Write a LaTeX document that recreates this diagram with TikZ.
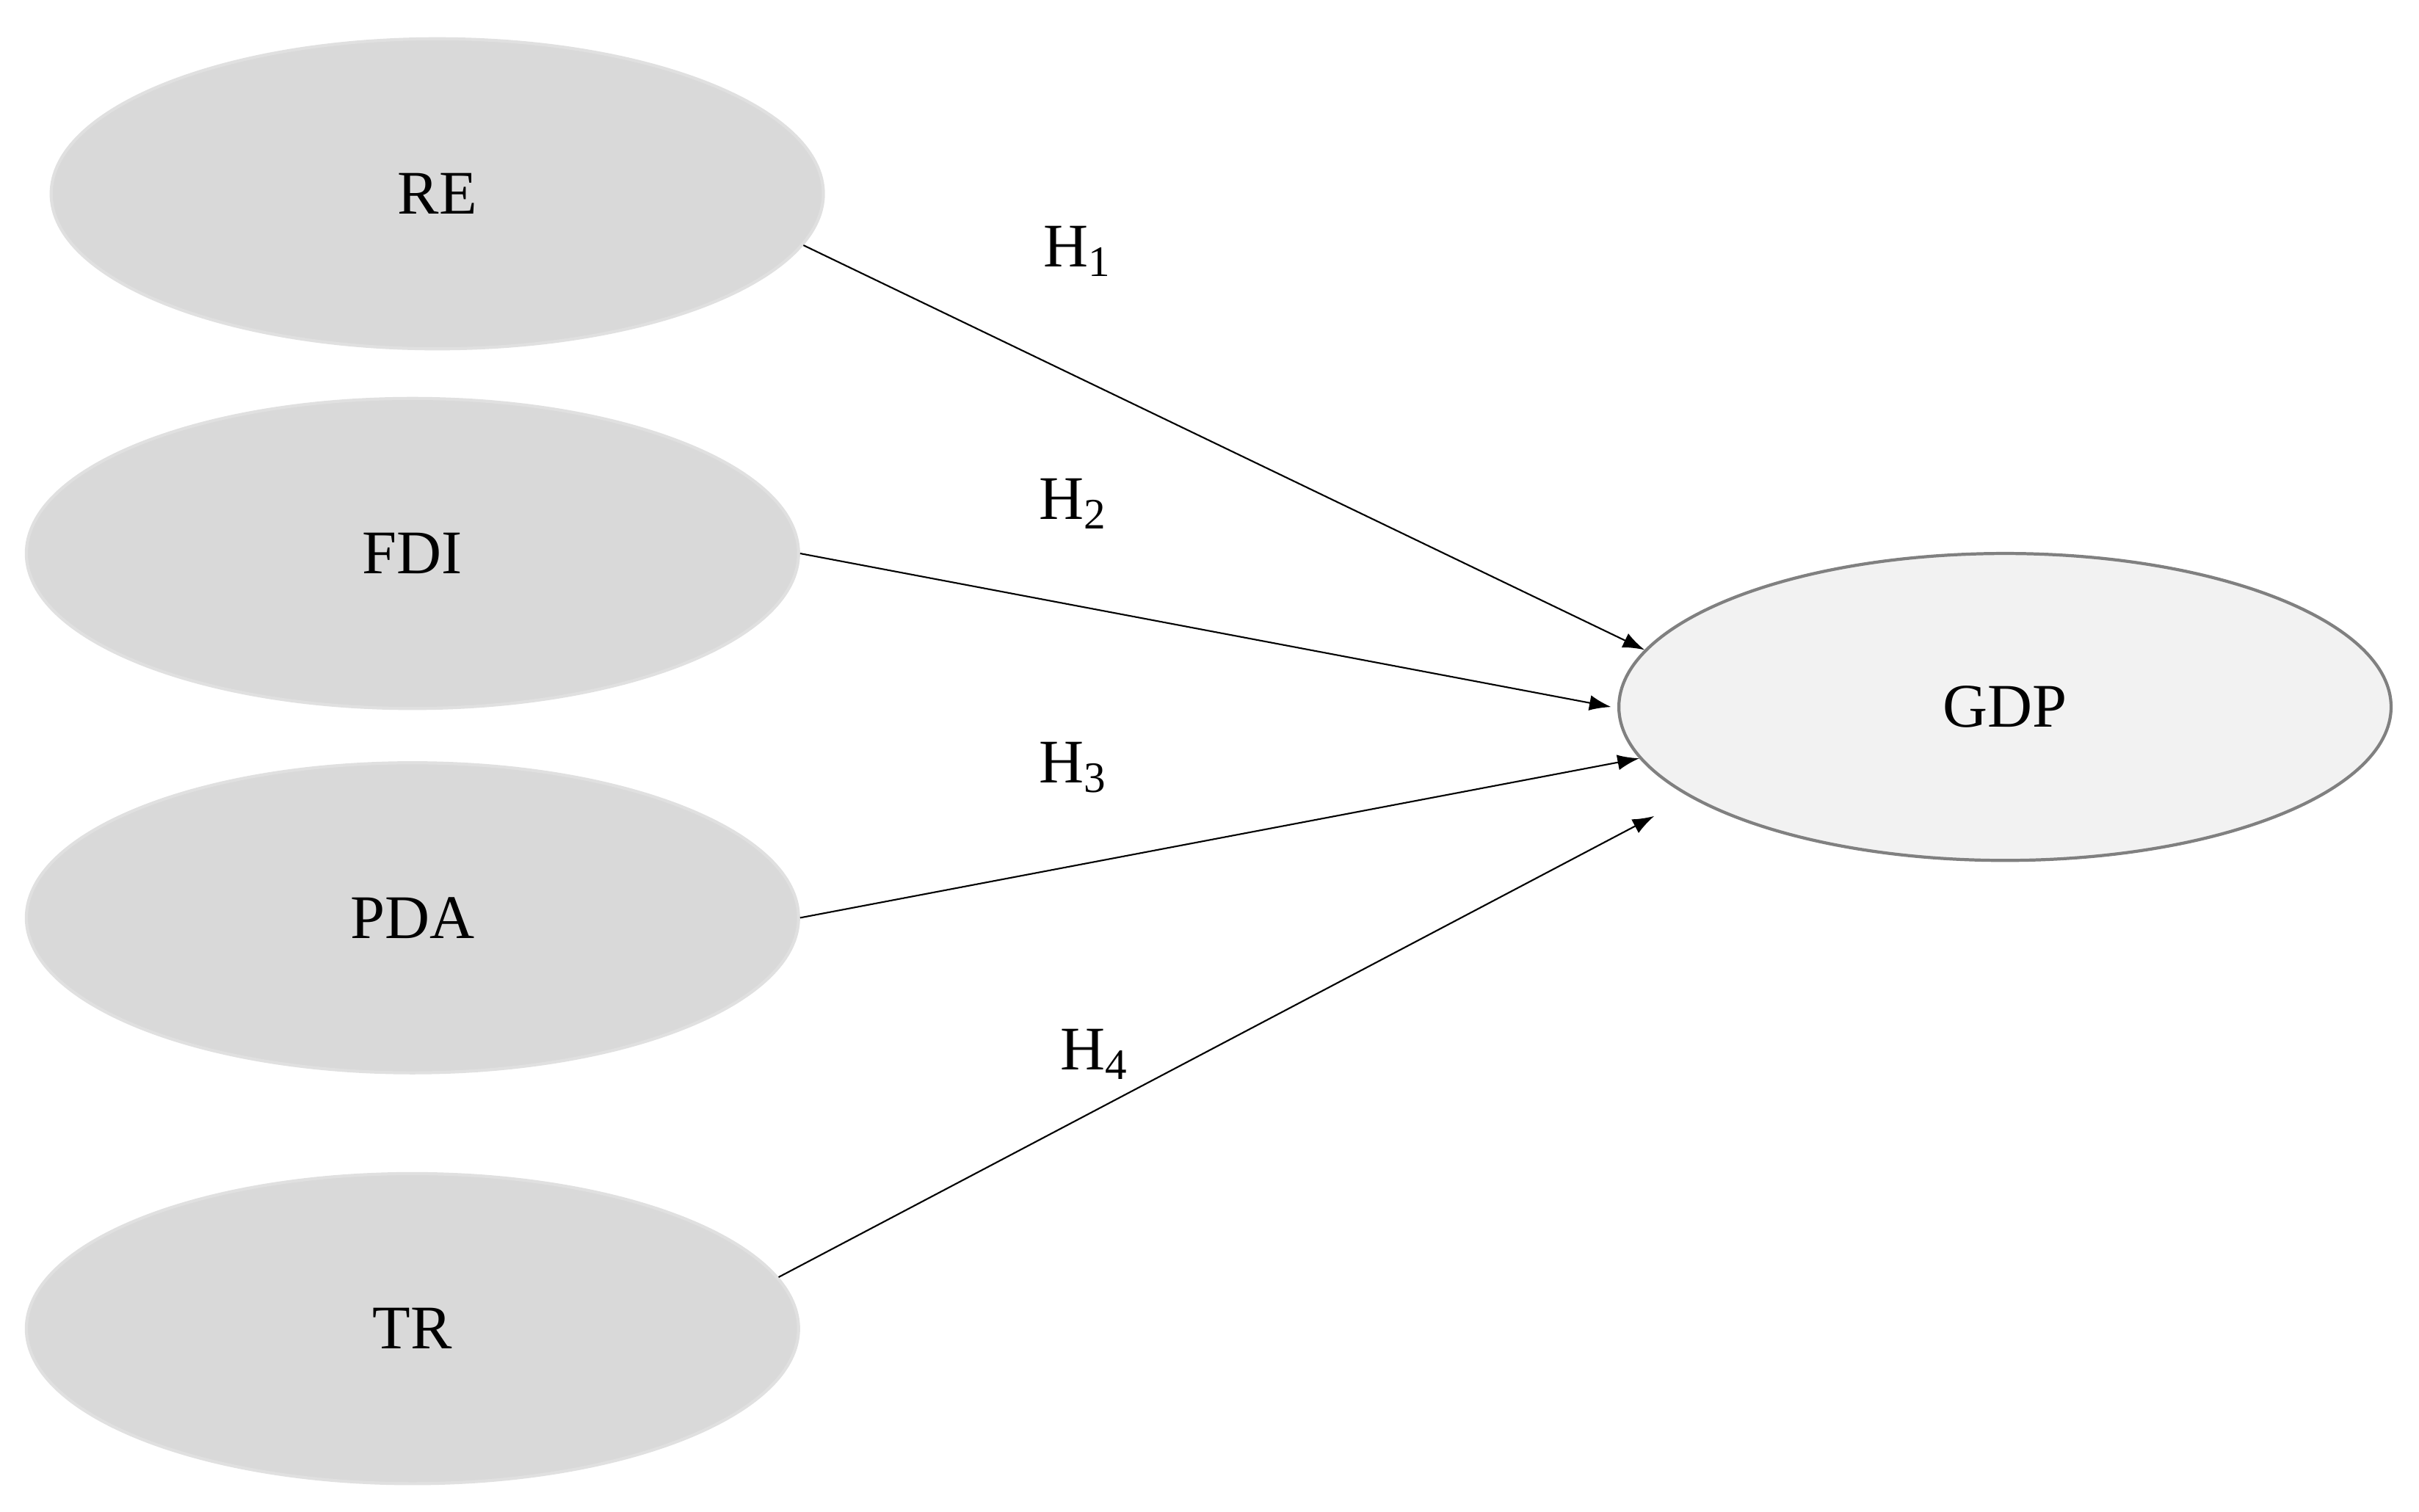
\documentclass[tikz,border=0pt]{standalone}
\usepackage{fontspec}
\setmainfont{Liberation Serif}
\usetikzlibrary{shapes.geometric,arrows.meta}
\begin{document}
\begin{tikzpicture}[x=0.5pt,y=-0.5pt,
  var/.style={ellipse,draw=black!12,line width=1pt,fill=black!15,minimum width=249pt,minimum height=100pt,inner sep=0pt,font=\fontsize{20}{24}\selectfont},
  lab/.style={font=\fontsize{20}{24}\selectfont},
  arr/.style={-{Latex[length=7pt,width=5pt]},line width=0.5pt}]
\useasboundingbox (0,0) rectangle (1560,975);
\node[var] (re) at (282,125) {RE};
\node[var] (fdi) at (266,357) {FDI};
\node[var] (pda) at (266,592) {PDA};
\node[var] (tr) at (266,857) {TR};
\node[var,fill=black!5,draw=black!50,minimum width=249pt,minimum height=99pt] (gdp) at (1293,456) {GDP};
\draw[arr] (re.-8) -- (gdp.171);
\draw[arr] (fdi.0) -- ([xshift=-2pt]gdp.180);
\draw[arr] (pda.0) -- (gdp.188);
\draw[arr,shorten >=13pt] (tr.8.5) -- (gdp.196);
\node[lab] (h1) at (695,162) {H\textsubscript{1}};
\node[lab] (h2) at (692,325) {H\textsubscript{2}};
\node[lab] (h3) at (692,495) {H\textsubscript{3}};
\node[lab] (h4) at (706,680) {H\textsubscript{4}};
\end{tikzpicture}
\end{document}
